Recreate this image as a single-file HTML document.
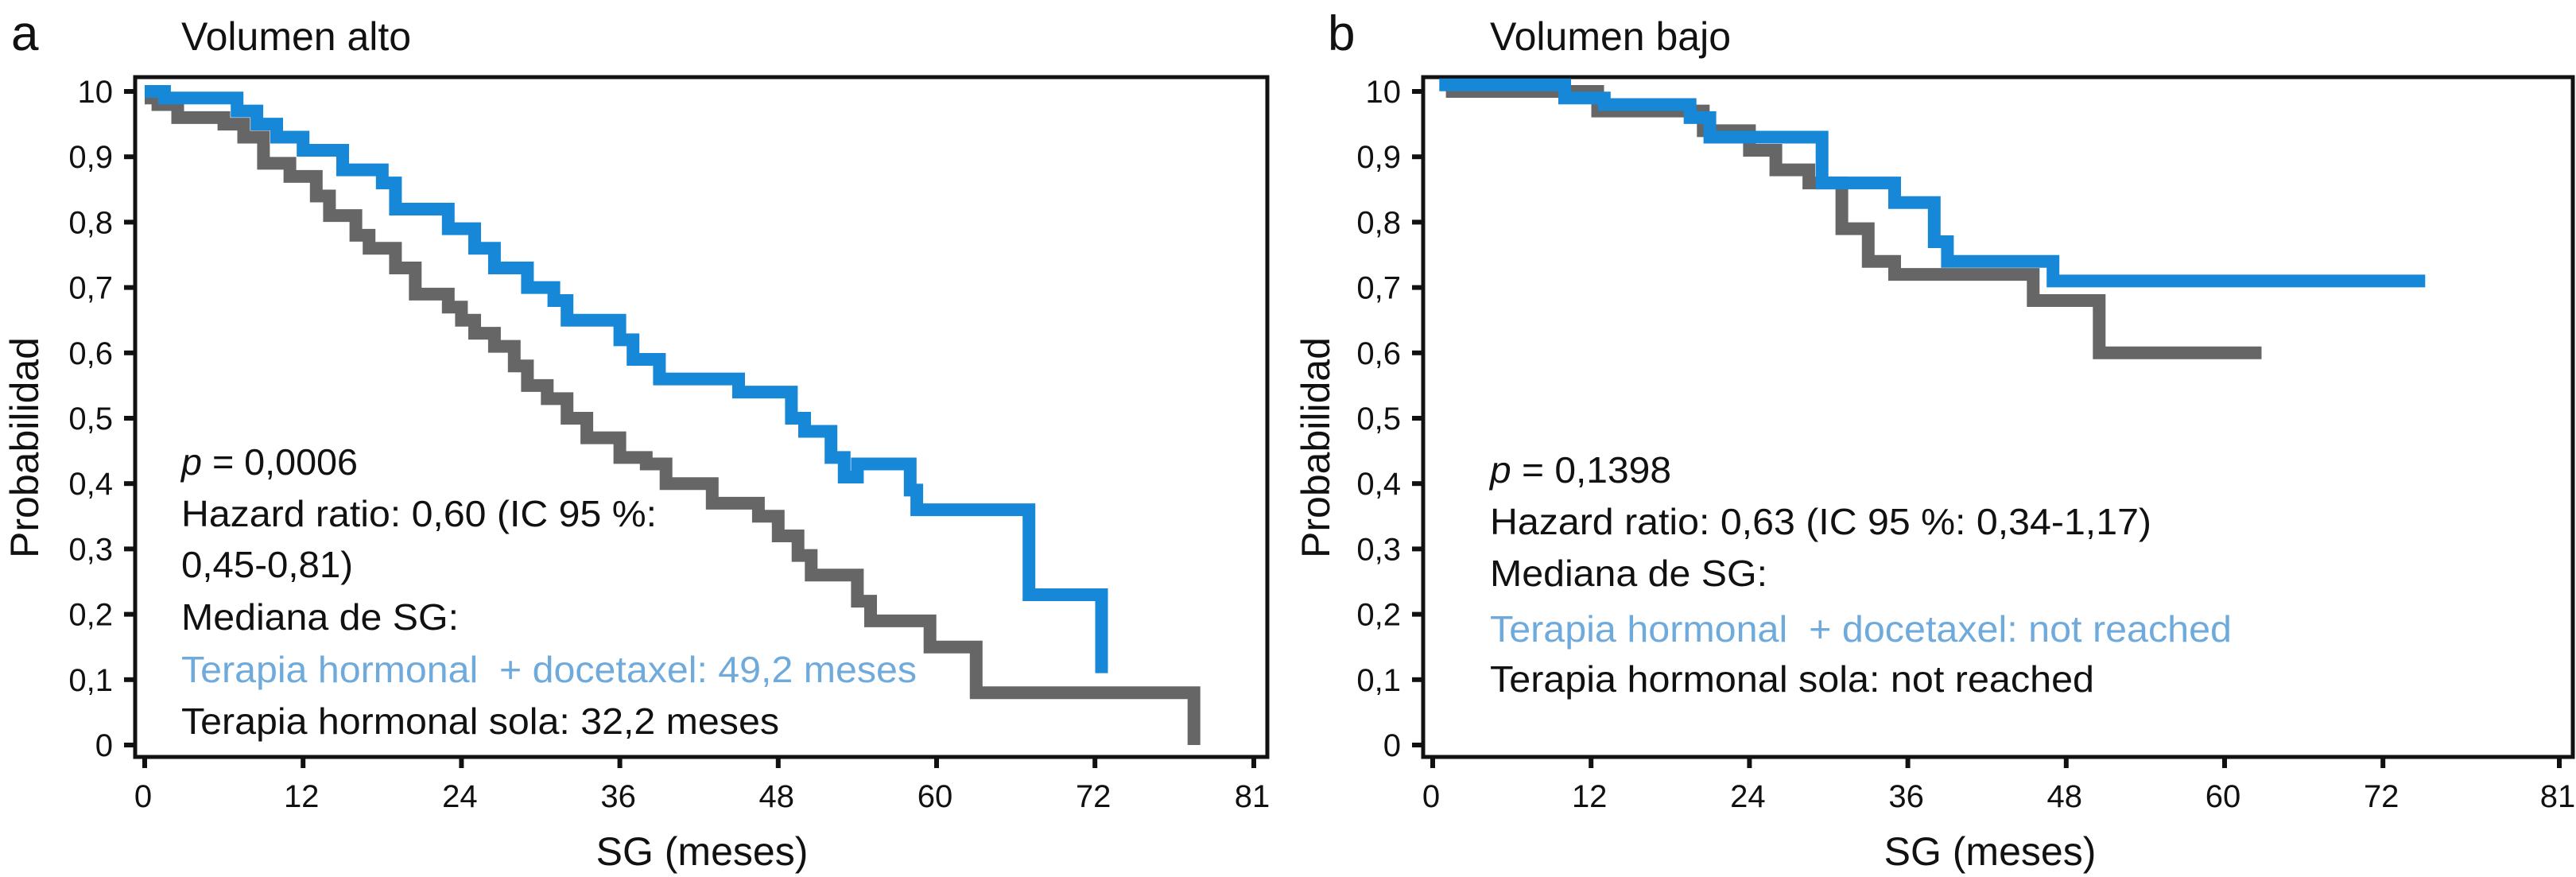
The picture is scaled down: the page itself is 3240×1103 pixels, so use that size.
<!DOCTYPE html>
<html><head><meta charset="utf-8"><style>
html,body{margin:0;padding:0;background:#fff;}
svg{display:block;font-family:"Liberation Sans",sans-serif;}
text{white-space:pre;}
</style></head><body>
<svg id="chart" width="3240" height="1103" viewBox="0 0 3240 1103" xmlns="http://www.w3.org/2000/svg"></svg>
<script>
// Panel a (Volumen alto)
const aBlueT = [0, 1.5, 7, 8.5, 10, 12, 15, 18, 19, 23, 25, 26.5, 29, 31, 32, 36, 37, 39, 45, 49, 50, 52, 53, 54, 58, 58.5, 67];
const aBlueV = [1.0, 0.99, 0.97, 0.95, 0.93, 0.91, 0.88, 0.86, 0.82, 0.79, 0.76, 0.73, 0.70, 0.68, 0.65, 0.62, 0.59, 0.56, 0.54, 0.50, 0.48, 0.44, 0.41, 0.43, 0.39, 0.36, 0.23];
const aBlueEnd = 72.5; const aBlueEndV = 0.11;
const aGrayT = [0, 1, 2.5, 6, 7.5, 9, 11, 13, 14, 16, 17, 19, 20.5, 23, 24, 25, 26.5, 28, 29, 30.5, 32, 33.5, 36, 38, 39.5, 43, 46.5, 48, 49.5, 50.5, 54, 55, 59.5, 63];
const aGrayV = [0.99, 0.98, 0.96, 0.95, 0.93, 0.89, 0.87, 0.84, 0.81, 0.78, 0.76, 0.73, 0.69, 0.67, 0.65, 0.63, 0.61, 0.58, 0.55, 0.53, 0.50, 0.47, 0.44, 0.43, 0.40, 0.37, 0.35, 0.32, 0.29, 0.26, 0.22, 0.19, 0.15, 0.08];
const aGrayEnd = 79.5; const aGrayEndV = 0.0;
// Panel b (Volumen bajo)
const bBlueT = [0.5, 10, 13, 19.5, 21, 29.5, 35, 38, 39, 47];
const bBlueV = [1.01, 0.99, 0.98, 0.96, 0.93, 0.86, 0.83, 0.77, 0.74, 0.71];
const bBlueEnd = 75.2; const bBlueEndV = 0.71;
const bGrayT = [1, 12.5, 20.5, 24, 26, 28.5, 31, 33, 35, 45.5, 50.5];
const bGrayV = [1.0, 0.97, 0.94, 0.91, 0.88, 0.86, 0.79, 0.74, 0.72, 0.68, 0.60];
const bGrayEnd = 62.8; const bGrayEndV = 0.60;
const xTicks = [0, 12, 24, 36, 48, 60, 72, 81];
const yTicks = [1, 0.9, 0.8, 0.7, 0.6, 0.5, 0.4, 0.3, 0.2, 0.1, 0];
const yTickLabels = ["10", "0,9", "0,8", "0,7", "0,6", "0,5", "0,4", "0,3", "0,2", "0,1", "0"];

const NS = "http://www.w3.org/2000/svg";
const svg = document.getElementById('chart');
function mk(tag, attrs, parent, text) {
  const e = document.createElementNS(NS, tag);
  for (const k in attrs) e.setAttribute(k, attrs[k]);
  if (text !== undefined) e.textContent = text;
  (parent || svg).appendChild(e);
  return e;
}
const BLUE = "#1787d8", GRAY = "#666666", LBLUE = "#6faadc";

function panel(off, p) {
  const x0 = off + 182, xs = 16.6;
  const X = m => x0 + m * xs;
  const Y = v => 937 - 822 * v;
  const g = mk('g', {});
  
  
  const left = off + 170, right = off + p.right, top = 97, bottom = 952;
  const box = mk('rect', {x: left, y: top, width: right - left, height: bottom - top, fill: 'none', stroke: '#111', 'stroke-width': 5}, g);
  
  
  yTicks.forEach((v, i) => {
    const tk = mk('line', {x1: left - 14, x2: left, y1: Y(v), y2: Y(v), stroke: '#111', 'stroke-width': 6}, g);
    
    
    const t = mk('text', {x: left - 28, y: Y(v) + 14, 'font-size': 40, 'text-anchor': 'end', fill: '#111'}, g, yTickLabels[i]);
    
    
  });
  xTicks.forEach((m, i) => {
    const px = (i === xTicks.length - 1) ? off + p.lastTick : X(m);
    const tk = mk('line', {x1: px, x2: px, y1: bottom, y2: bottom + 14, stroke: '#111', 'stroke-width': 6}, g);
    
    
    const t = mk('text', {x: px - 2, y: 1015, 'font-size': 40, 'text-anchor': 'middle', fill: '#111'}, g, String(m));
    
    
  });
  function curve(T, V, endT, endV, color, name) {
    let d = 'M' + X(T[0]) + ' ' + Y(V[0]);
    for (let i = 1; i < T.length; i++) d += ' H' + X(T[i]) + ' V' + Y(V[i]);
    d += ' H' + X(endT) + ' V' + Y(endV);
    const path = mk('path', {d: d, fill: 'none', stroke: color, 'stroke-width': 16, 'stroke-linejoin': 'miter'}, g);
    
    
  }
  curve(p.gT, p.gV, p.gE, p.gEV, GRAY, 'curve-hormonal-sola');
  curve(p.bT, p.bV, p.bE, p.bEV, BLUE, 'curve-hormonal-docetaxel');
  p.lines.forEach(l => {
    const a = {x: off + p.tx, y: l[1], 'font-size': 46, fill: l[2] || '#111'};
    if (l[3]) { a.textLength = l[3]; a.lengthAdjust = 'spacingAndGlyphs'; }
    const t = mk('text', a, g);
    if (l[0].startsWith('p =')) {
      mk('tspan', {'font-style': 'italic'}, t, 'p');
      mk('tspan', {}, t, l[0].slice(1));
    } else t.textContent = l[0];
    
    
  });
  const lbl = mk('text', {x: off + p.lx, y: 63, 'font-size': 62, fill: '#111'}, g, p.id);
  
  
  const title = mk('text', {x: off + p.tx, y: 63, 'font-size': 50, fill: '#111'}, g, p.title);
  
  
  const xt = mk('text', {x: off + 883, y: 1088, 'font-size': 50, 'text-anchor': 'middle', fill: '#111'}, g, 'SG (meses)');
  
  
  const yt = mk('text', {x: 0, y: 0, 'font-size': 50, 'text-anchor': 'middle', fill: '#111', transform: 'translate(' + (off + p.ytx) + ',563) rotate(-90)'}, g, 'Probabilidad');
  
  
}

panel(0, {id: 'a', title: 'Volumen alto', right: 1594, lastTick: 1577, tx: 228, lx: 14, ytx: 48,
  bT: aBlueT, bV: aBlueV, bE: aBlueEnd, bEV: aBlueEndV, gT: aGrayT, gV: aGrayV, gE: aGrayEnd, gEV: aGrayEndV,
  lines: [["p = 0,0006", 597, null, 222], ["Hazard ratio: 0,60 (IC 95 %:", 662, null, 598], ["0,45-0,81)", 726, null, 216],
          ["Mediana de SG:", 792, null, 349], ["Terapia hormonal  + docetaxel: 49,2 meses", 858, LBLUE, 925], ["Terapia hormonal sola: 32,2 meses", 923, null, 752]]});
panel(1620, {id: 'b', title: 'Volumen bajo', right: 1616, lastTick: 1599, tx: 254, lx: 50, ytx: 52,
  bT: bBlueT, bV: bBlueV, bE: bBlueEnd, bEV: bBlueEndV, gT: bGrayT, gV: bGrayV, gE: bGrayEnd, gEV: bGrayEndV,
  lines: [["p = 0,1398", 607, null, 228], ["Hazard ratio: 0,63 (IC 95 %: 0,34-1,17)", 672, null, 832],
          ["Mediana de SG:", 737, null, 349], ["Terapia hormonal  + docetaxel: not reached", 807, LBLUE, 933], ["Terapia hormonal sola: not reached", 870, null, 760]]});
</script>
</body></html>
